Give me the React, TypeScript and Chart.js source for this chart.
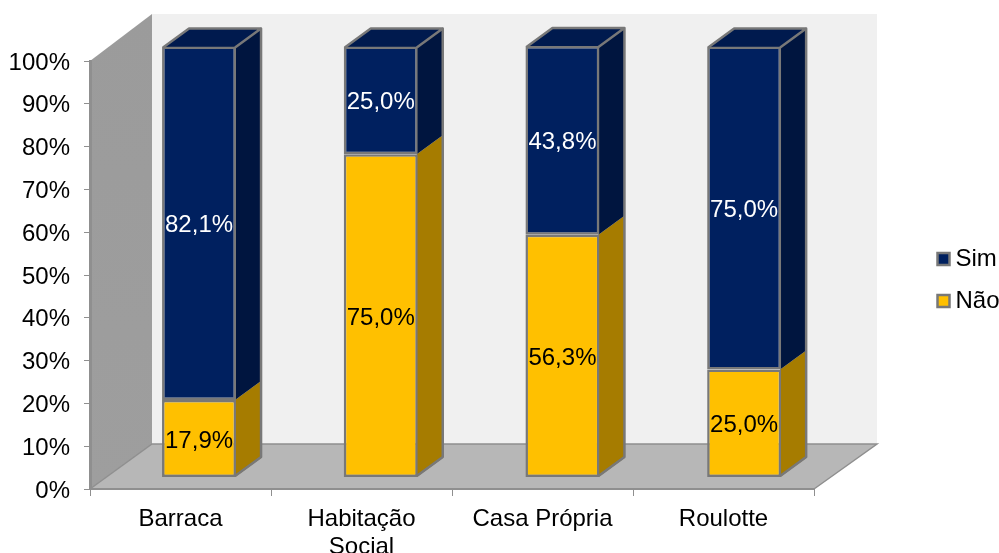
import React, { useEffect, useRef } from "react";
import { Chart, registerables } from "chart.js";

Chart.register(...registerables);

const categories: (string | string[])[] = ["Barraca", ["Habitação", "Social"], "Casa Própria", "Roulotte"];
const naoValues = [17.9, 75.0, 56.3, 25.0];
const simValues = [82.1, 25.0, 43.8, 75.0];

const FONT = "'Liberation Sans', Arial, sans-serif";
const FONT_SIZE = 24;
const EDGE = "#787878";
const AXIS = "#8f8f8f";
const NAVY = "#00205f";
const YELLOW = "#ffc000";
const SIDE: Record<string, string> = { [NAVY]: "#00153f", [YELLOW]: "#a67c00" };
const TOP_FACE = "#001a4e";

function poly(ctx: CanvasRenderingContext2D, pts: number[][]) {
  ctx.beginPath();
  pts.forEach(([x, y], i) => (i ? ctx.lineTo(x, y) : ctx.moveTo(x, y)));
  ctx.closePath();
}

const BAR_DX = 26;
const BAR_DY = -19;

const scene3d = {
  id: "scene3d",
  beforeLayout(chart: any) {
    const legend = chart.legend;
    if (legend && !legend.__patched) {
      const fit = legend.fit;
      legend.fit = function () {
        fit.call(this);
        this.width = 185;
      };
      legend.__patched = true;
    }
  },
  afterLayout(chart: any) {
    const x2 = chart.scales.x2;
    const y2 = chart.scales.y2;
    x2.left += 18.2;
    x2.right += 21;
    x2.configure();
    y2.top = chart.chartArea.top - 14.5;
    y2.bottom = chart.chartArea.bottom - 12;
    y2.configure();
    chart.legend.left = 925.5;
    chart.legend.top -= 27;
    chart.legend.bottom -= 27;
  },
  beforeDraw(chart: any) {
    const ctx: CanvasRenderingContext2D = chart.ctx;
    const { left, right, top, bottom } = chart.chartArea;
    const backL = left + 62;
    const backR = right + 63;
    const backT = top - 47;
    const backB = bottom - 45;
    ctx.save();
    ctx.fillStyle = "#f0f0f0";
    ctx.fillRect(backL, backT, backR - backL, backB - backT);
    const g = ctx.createLinearGradient(0, backT, 0, bottom);
    g.addColorStop(0, "#9b9b9b");
    g.addColorStop(1, "#9e9e9e");
    ctx.fillStyle = g;
    poly(ctx, [[left, top], [backL, backT], [backL, backB], [left, bottom]]);
    ctx.fill();
    ctx.fillStyle = "#b7b7b7";
    poly(ctx, [[left, bottom], [backL, backB], [backR, backB], [right, bottom]]);
    ctx.fill();
    ctx.strokeStyle = AXIS;
    ctx.lineWidth = 1.5;
    ctx.beginPath();
    ctx.moveTo(left, bottom);
    ctx.lineTo(backL, backB);
    ctx.lineTo(backR, backB);
    ctx.lineTo(right, bottom);
    ctx.stroke();
    ctx.restore();
  },
  beforeDatasetsDraw(chart: any) {
    const ctx: CanvasRenderingContext2D = chart.ctx;
    const metas = chart.getSortedVisibleDatasetMetas();
    const n = chart.data.labels.length;
    ctx.save();
    for (let i = 0; i < n; i++) {
      let r = 0, topY = 0, l = 0, baseY = 0;
      metas.forEach((m: any, k: number) => {
        const el = m.data[i];
        const color = chart.data.datasets[m.index].backgroundColor;
        r = el.x + el.width / 2 - 1;
        l = el.x - el.width / 2 + 1;
        topY = el.y + 1;
        if (k === 0) baseY = el.base - 1;
        ctx.fillStyle = SIDE[color];
        poly(ctx, [[r, el.y], [r + BAR_DX, el.y + BAR_DY], [r + BAR_DX, el.base + BAR_DY], [r, el.base]]);
        ctx.fill();
      });
      ctx.fillStyle = TOP_FACE;
      poly(ctx, [[l, topY], [l + BAR_DX, topY + BAR_DY], [r + BAR_DX, topY + BAR_DY], [r, topY]]);
      ctx.fill();
      ctx.strokeStyle = EDGE;
      ctx.lineWidth = 2.5;
      ctx.lineJoin = "round";
      ctx.beginPath();
      ctx.moveTo(l, topY);
      ctx.lineTo(l + BAR_DX, topY + BAR_DY);
      ctx.lineTo(r + BAR_DX, topY + BAR_DY);
      ctx.lineTo(r + BAR_DX, baseY + BAR_DY);
      ctx.lineTo(r, baseY);
      ctx.moveTo(r, topY);
      ctx.lineTo(r + BAR_DX, topY + BAR_DY);
      ctx.stroke();
    }
    ctx.restore();
  },
  afterDatasetsDraw(chart: any) {
    const ctx: CanvasRenderingContext2D = chart.ctx;
    ctx.save();
    ctx.font = `${FONT_SIZE}px ${FONT}`;
    ctx.textAlign = "center";
    ctx.textBaseline = "middle";
    chart.getSortedVisibleDatasetMetas().forEach((m: any) => {
      const ds = chart.data.datasets[m.index];
      ctx.fillStyle = ds.labelColor;
      m.data.forEach((el: any, i: number) => {
        const text = ds.data[i].toFixed(1).replace(".", ",") + "%";
        ctx.fillText(text, el.x, (el.y + el.base) / 2 + 2.5);
      });
    });
    ctx.restore();
  },
};

export default function App() {
  const ref = useRef<HTMLCanvasElement>(null);
  useEffect(() => {
    document.body.style.margin = "0";
    const tickFont = { family: FONT, size: FONT_SIZE };
    const bar = {
      xAxisID: "x2",
      yAxisID: "y2",
      borderColor: EDGE,
      borderWidth: 2.5,
      borderSkipped: false,
      barThickness: 74,
      inflateAmount: 0,
      clip: false,
    };
    const chart = new Chart(ref.current as HTMLCanvasElement, {
      type: "bar",
      data: {
        labels: categories as any,
        datasets: [
          { ...bar, label: "Não", data: naoValues, backgroundColor: YELLOW, labelColor: "#000000" } as any,
          { ...bar, label: "Sim", data: simValues, backgroundColor: NAVY, labelColor: "#ffffff" } as any,
        ],
      },
      plugins: [scene3d],
      options: {
        animation: false,
        responsive: false,
        layout: { padding: { top: 61, left: 0, right: 0, bottom: 0 } },
        plugins: {
          title: { display: false },
          tooltip: { enabled: false },
          legend: {
            display: true,
            position: "right",
            reverse: true,
            labels: {
              color: "#000000",
              font: tickFont,
              padding: 18,
              usePointStyle: true,
              pointStyle: "rect",
              boxWidth: 0.01,
              boxHeight: 12,
            },
          },
        },
        scales: {
          x: {
            type: "category",
            offset: true,
            position: "bottom",
            border: { display: true, color: AXIS, width: 2 },
            grid: { display: true, offset: true, drawOnChartArea: false, drawTicks: true, tickLength: 7, color: AXIS },
            ticks: { color: "#000000", font: { ...tickFont, lineHeight: 1.18 }, padding: 9, maxRotation: 0, autoSkip: false },
            afterFit: (s: any) => { s.height = 64; },
          },
          y: {
            type: "linear",
            min: 0,
            max: 100,
            position: "left",
            border: { display: true, color: AXIS, width: 3 },
            grid: { display: true, drawOnChartArea: false, drawTicks: true, tickLength: 6, color: AXIS },
            ticks: { color: "#000000", font: tickFont, stepSize: 10, padding: 14, labelOffset: 2, callback: (v: any) => `${v}%` },
            afterFit: (s: any) => { s.width = 90; },
          },
          x2: { type: "category", offset: true, stacked: true, display: false },
          y2: { type: "linear", min: 0, max: 100, stacked: true, display: false },
        },
      } as any,
    });
    return () => chart.destroy();
  }, []);
  return <canvas ref={ref} width={999} height={553} style={{ display: "block" }} />;
}
